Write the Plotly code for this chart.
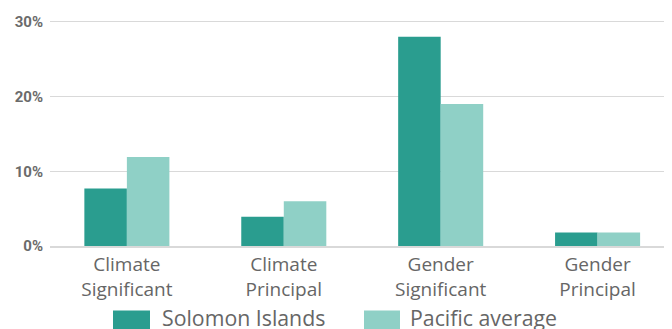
import plotly.graph_objects as go

categories = ["Climate<br>Significant", "Climate<br>Principal", "Gender<br>Significant", "Gender<br>Principal"]
solomon = [7.7, 3.9, 28.0, 1.8]
pacific = [11.9, 6.0, 19.0, 1.8]
series_names = ["Solomon Islands", "Pacific average"]
series_colors = ["#2a9d8f", "#8fd0c6"]
tick_vals = [0, 10, 20, 30]
tick_text = ["0%", "10%", "20%", "30%"]

fig = go.Figure()
for name, vals, col in zip(series_names, [solomon, pacific], series_colors):
    fig.add_trace(go.Bar(x=categories, y=vals, name=name, marker_color=col, marker_line_width=0))

# plot area on screen: x 50..666 px, y 13..246 px (page has 8px body margin)
def px_x(p):
    return (p - 50) / 616.0
def px_y(p):
    return (246 - p) / 233.0

legend_pos = [(113, 150, 160), (364, 400, 408)]
for (x0, x1, tx), name, col in zip(legend_pos, series_names, series_colors):
    fig.add_shape(type="rect", xref="paper", yref="paper", x0=px_x(x0), x1=px_x(x1),
                  y0=px_y(312), y1=px_y(334), fillcolor=col, line_width=0)
    fig.add_annotation(xref="paper", yref="paper", x=px_x(tx), y=px_y(319), text=name,
                       showarrow=False, xanchor="left", yanchor="middle",
                       font=dict(family="Open Sans", size=21.3, color="#666666"))

fig.update_layout(
    width=672, height=329,
    margin=dict(l=42, r=14, t=5, b=91),
    paper_bgcolor="white", plot_bgcolor="white",
    barmode="group", bargap=0.458, bargroupgap=0,
    showlegend=False,
    font=dict(family="Open Sans", color="#666666"),
)
fig.update_xaxes(tickfont=dict(family="Open Sans", size=19, color="#666666"), showline=True,
                 linecolor="#d9d9d9", linewidth=2, ticks="", showgrid=False,
                 range=[-0.49, 3.436])
fig.update_yaxes(range=[0, 30.5], tickvals=tick_vals, ticktext=tick_text,
                 tickfont=dict(family="Roboto", size=15, color="#6b6b6b", weight="bold"),
                 showgrid=True, gridcolor="#d9d9d9", gridwidth=1, zeroline=False, ticks="",
                 ticklabelstandoff=6)
fig.write_html("out.html")
